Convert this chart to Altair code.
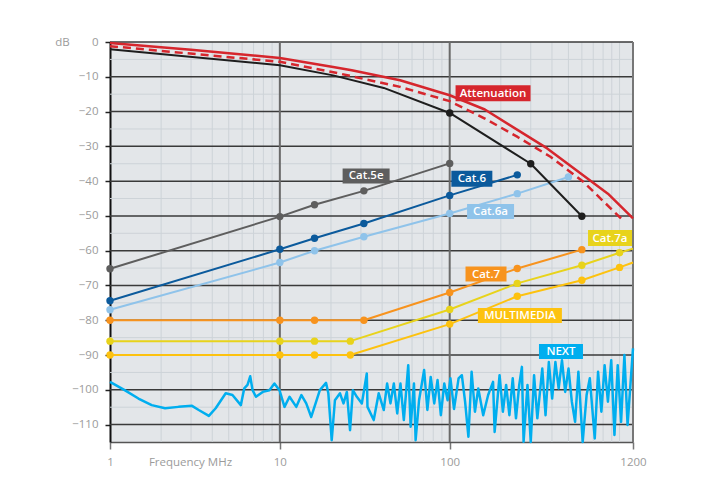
import altair as alt
import pandas as pd

# ---------------- data ----------------
att_f = [1, 3, 10, 20.6, 26.5, 51, 100, 161, 375, 854, 1200]
att_db = [-0.3, -2.2, -4.6, -7.2, -8.1, -11.0, -15.3, -19.4, -30.6, -43.6, -50.7]

attd_f = [1, 10, 22.6, 51, 100, 161, 251, 392, 612, 1044]
attd_db = [-1.2, -5.7, -9.1, -12.9, -17.0, -22.0, -27.3, -33.0, -40.2, -51.2]

blk_f = [1, 10, 20.6, 40.9, 100, 300, 600]
blk_db = [-2.1, -6.7, -9.6, -13.2, -20.4, -35.0, -50.1]
blk_mark = [0, 0, 0, 0, 1, 1, 1]

c5e_f = [1, 10, 16, 31.25, 100]
c5e_db = [-65.2, -50.2, -46.8, -42.8, -34.9]

c6_f = [1, 10, 16, 31.25, 100, 250]
c6_db = [-74.4, -59.6, -56.4, -52.2, -44.1, -38.2]

c6a_f = [1, 10, 16, 31.25, 100, 250, 500]
c6a_db = [-77.0, -63.4, -60.0, -56.0, -49.3, -43.6, -38.8]

c7_f = [1, 10, 16, 31.25, 100, 250, 600]
c7_db = [-80, -80, -80, -80, -72.0, -65.1, -59.7]

c7a_f = [1, 10, 16, 26, 100, 250, 600, 1000, 1200]
c7a_db = [-86, -86, -86, -86, -76.9, -69.4, -64.2, -60.6, -59.4]
c7a_mark = [1, 1, 1, 1, 1, 1, 1, 1, 0]

mm_f = [1, 10, 16, 26, 100, 250, 600, 1000, 1200]
mm_db = [-90, -90, -90, -90, -81.1, -73.1, -68.5, -64.8, -63.4]
mm_mark = [1, 1, 1, 1, 1, 1, 1, 1, 0]

next_f = [1.0, 1.22, 1.47, 1.76, 2.11, 2.53, 3.04, 3.33, 3.82, 4.19, 4.80, 5.26,
          5.89, 6.17, 6.45, 6.69, 6.91, 7.23, 7.93, 8.68, 9.29, 9.95, 10.65,
          11.4, 12.5, 13.4, 14.3, 15.3, 17.2, 18.7, 19.3, 20.2, 21.1, 22.6,
          23.7, 24.8, 25.9, 26.9, 28.4, 30.4, 32.5, 32.8, 35.7, 38.2, 40.9,
          42.8, 44.8, 46.9, 49.1, 51.3, 53.7, 57.0, 58.9, 61.6, 63.0, 66.0,
          70.7, 73.9, 77.3, 81.1, 84.8, 88.7, 92.9, 97.2, 101, 106, 112.8,
          117.9, 123.2, 128.9, 134.6, 140.8, 147.3, 157.5, 168.4, 180, 183.9,
          196.6, 205.6, 214.9, 224.6, 235, 245.6, 256.7, 266.1, 272.3, 287.1,
          300, 313.8, 328.1, 350.8, 366.7, 383.4, 401, 419, 438, 458.3, 478.6,
          500.6, 523.6, 547.2, 572.3, 606.7, 639.7, 668.3, 714.5, 747.3, 781.6,
          816.6, 854.1, 893.3, 933.3, 975.4, 1021, 1068, 1115, 1200]
next_db = [-97.7, -100.1, -102.5, -104.4, -105.3, -104.9, -104.6, -105.8, -107.5,
           -105.3, -101.0, -101.5, -104.4, -99.6, -98.6, -96.1, -100.1, -102.0,
           -100.6, -100.1, -98.2, -100.1, -104.9,
           -102.0, -104.9, -101.5, -103.9, -107.8, -100.1, -98.0, -101.0, -114.5,
           -103.0, -101.0, -103.9, -100.6, -111.6, -100.1, -102.0, -103.9, -95.3,
           -104.9, -108.7, -101.0, -105.8, -98.2, -103.9, -98.2, -106.8, -98.2,
           -108.7, -92.9, -110.6, -98.2, -114.5, -103.0, -94.3, -105.8, -96.3,
           -103.9, -97.2, -107.3, -98.2, -103.0, -96.7, -105.5, -96.7, -95.8,
           -103.4, -113.5, -94.8, -106.3, -99.6, -107.3, -101.5, -97.7, -112.1,
           -95.8, -106.3, -98.6, -107.3, -96.7, -108.2, -98.6, -93.4, -114.9,
           -98.6, -115.0, -95.8, -108.2, -93.9, -107.3, -92.0, -102.5, -92.0,
           -99.6, -91.5, -100.6, -93.9, -103.4, -109.2, -94.8, -115.0, -101.5,
           -96.7, -114.0, -94.8, -106.3, -92.9, -103.4, -91.5, -113.0, -92.9,
           -109.2, -90.0, -110.1, -88.1]

# grid and axis values
y_major = [0, -10, -20, -30, -40, -50, -60, -70, -80, -90, -100, -110]
y_minor = [-5, -15, -25, -35, -45, -55, -65, -75, -85, -95, -105]
x_minor = [2, 3, 4, 5, 6, 7, 8, 9, 20, 30, 40, 50, 60, 70, 80, 90,
           200, 300, 400, 500, 600, 700, 800, 900, 1000]
x_major = [10, 100]
x_ticks = [1, 10, 100, 1200]

# label annotations (text, anchor frequency, anchor dB)
lab_text = ["Attenuation", "Cat.5e", "Cat.6", "Cat.6a", "Cat.7a", "Cat.7", "MULTIMEDIA", "NEXT"]
lab_f = [180, 32.2, 135, 174, 879, 163.6, 259, 452]
lab_db = [-14.7, -38.5, -39.3, -48.7, -56.35, -66.7, -78.6, -89.0]

# ---------------- styling ----------------
FONT = "Open Sans"
xs = alt.Scale(type="log", domain=[1, 1200], nice=False)
ys = alt.Scale(domain=[-115, 0], nice=False, zero=False)

x_axis = alt.Axis(values=x_ticks, format="d", title="Frequency MHz", titleX=80, titleY=20,
                  titleAlign="center", titleBaseline="middle", titleFontWeight="normal",
                  titleColor="#9b9b9b", titleFont=FONT, titleFontSize=11.5,
                  labelColor="#9b9b9b", labelFont=FONT, labelFontSize=11.5, labelPadding=7,
                  labelFlush=False, labelOverlap=False,
                  tickColor="#777777", tickSize=7, tickWidth=1.5,
                  domainColor="#555555", domainWidth=1.5, grid=False)
y_axis = alt.Axis(values=y_major, title="dB", titleAngle=0, titleX=-48, titleY=0,
                  titleAlign="center", titleBaseline="middle", titleFontWeight="normal",
                  titleColor="#9b9b9b", titleFont=FONT, titleFontSize=11.5,
                  labelColor="#9b9b9b", labelFont=FONT, labelFontSize=11.5, labelPadding=7,
                  tickColor="#222222", tickSize=5, tickWidth=1.5,
                  domainColor="#111111", domainWidth=2, grid=False)

def X():
    return alt.X("f:Q", scale=xs, axis=x_axis)

def Y():
    return alt.Y("v:Q", scale=ys, axis=y_axis)

layers = []

# axes carrier (invisible points)
axis_df = pd.DataFrame({"f": [1, 1200], "v": [-115, 0]})
layers.append(alt.Chart(axis_df).mark_point(opacity=0).encode(x=X(), y=Y()))

# minor grid
layers.append(alt.Chart(pd.DataFrame({"v": y_minor})).mark_rule(color="#cdd3d8", strokeWidth=1).encode(y=Y()))
layers.append(alt.Chart(pd.DataFrame({"f": x_minor})).mark_rule(color="#cdd3d8", strokeWidth=1).encode(x=X()))
# major grid
layers.append(alt.Chart(pd.DataFrame({"v": y_major})).mark_rule(color="#3a3a3a", strokeWidth=1.5).encode(y=Y()))
layers.append(alt.Chart(pd.DataFrame({"f": x_major})).mark_rule(color="#6a6a6a", strokeWidth=2).encode(x=X()))
layers.append(alt.Chart(pd.DataFrame({"f": [1200]})).mark_rule(color="#777777", strokeWidth=2).encode(x=X()))

def series(f, v, color, width=2, dash=None, marks=None, size=55):
    df = pd.DataFrame({"f": f, "v": v, "m": marks if marks is not None else [1] * len(f)})
    kw = dict(color=color, strokeWidth=width, strokeJoin="round")
    if dash:
        kw["strokeDash"] = dash
    out = [alt.Chart(df).mark_line(**kw).encode(x=X(), y=Y())]
    if marks is None or any(marks):
        out.append(alt.Chart(df).transform_filter("datum.m == 1")
                   .mark_circle(color=color, opacity=1, size=size).encode(x=X(), y=Y()))
    return out

layers += series(next_f, next_db, "#00aeef", width=2.5, marks=[0] * len(next_f))
layers += series(mm_f, mm_db, "#fdc20f", marks=mm_mark)
layers += series(c7a_f, c7a_db, "#e8d31b", marks=c7a_mark)
layers += series(c7_f, c7_db, "#f7931e")
layers += series(c6a_f, c6a_db, "#8fc3ea")
layers += series(c6_f, c6_db, "#0b5a9c")
layers += series(c5e_f, c5e_db, "#5e5e5e")
layers += series(blk_f, blk_db, "#1e1e1e", marks=blk_mark)
layers += series(attd_f, attd_db, "#d6262d", width=2.5, dash=[8, 5], marks=[0] * len(attd_f))
layers += series(att_f, att_db, "#d6262d", width=2.5, marks=[0] * len(att_f))

# label boxes
box_style = {
    "Attenuation": ("#d6262d", 75, 16),
    "Cat.5e": ("#5e5e5e", 47, 15),
    "Cat.6": ("#0b5a9c", 41, 16),
    "Cat.6a": ("#8fc3ea", 47, 15),
    "Cat.7a": ("#e8d31b", 44, 16),
    "Cat.7": ("#f7931e", 41, 15),
    "MULTIMEDIA": ("#fdc20f", 84, 15),
    "NEXT": ("#00aeef", 44, 15),
}
lab_df = pd.DataFrame({"t": lab_text, "f": lab_f, "v": lab_db})
for name, (col, w, h) in box_style.items():
    layers.append(alt.Chart(lab_df).transform_filter(alt.datum.t == name)
                  .mark_rect(color=col, width=w, height=h).encode(x=X(), y=Y()))
layers.append(alt.Chart(lab_df).mark_text(color="white", font=FONT, fontSize=11.5, fontWeight=600,
                                         align="center", baseline="middle", dy=0.5)
              .encode(x=X(), y=Y(), text="t:N"))

chart = alt.layer(*layers).properties(
    width=523, height=400,
    autosize=alt.AutoSizeParams(type="none"),
    padding={"left": 102, "top": 34, "right": 60, "bottom": 36},
    background="white",
).configure_view(fill="#e3e6e9", stroke=None)

chart.save("out.html", embed_options={"renderer": "svg", "actions": False})
